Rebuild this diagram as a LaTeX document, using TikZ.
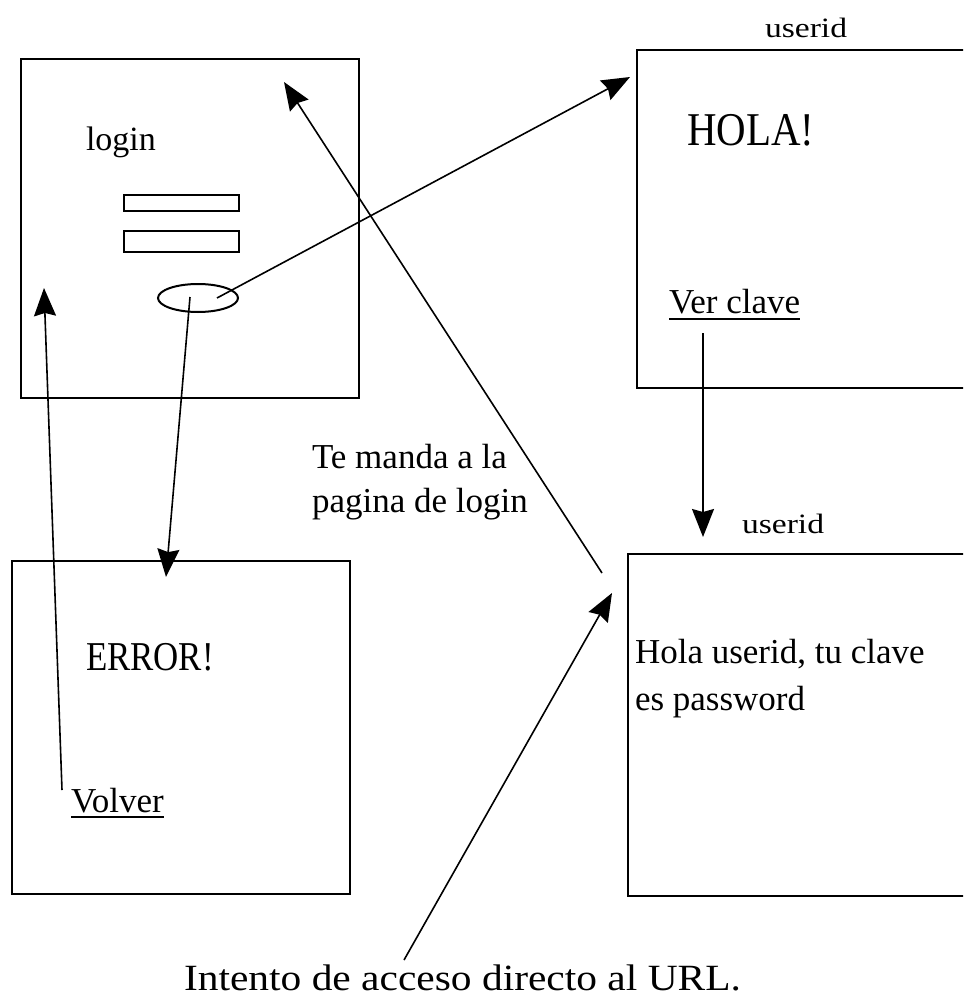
\documentclass[tikz,border=0pt]{standalone}
\usepackage{fontspec}
\setmainfont{Liberation Serif}
\usepackage{graphicx}
\usetikzlibrary{arrows.meta,shapes.geometric}
\begin{document}
\begin{tikzpicture}[x=1pt,y=-1pt,
  box/.style={draw, line width=2.4pt, inner sep=0pt, outer sep=0pt, anchor=north west},
  field/.style={draw, line width=2pt, inner sep=0pt, outer sep=0pt, anchor=north west},
  conn/.style={line width=1.6pt, -{Stealth[length=28pt,width=22pt,inset=3pt]}},
  txt/.style={inner sep=0pt, outer sep=0pt, anchor=base west, font=\fontsize{35}{42}\selectfont},
  uline/.style={line width=2pt}]
\useasboundingbox (0,0) rectangle (963,1000);
\clip (0,0) rectangle (963,1000);
\fill[white] (0,0) rectangle (963,1000);

% boxes
\node[box, minimum width=338pt, minimum height=339pt] (login) at (21,59) {};
\node[box, minimum width=400pt, minimum height=338pt] (holabox) at (637,50) {};
\node[box, minimum width=338pt, minimum height=333pt] (errbox) at (12,561) {};
\node[box, minimum width=400pt, minimum height=342pt] (clavebox) at (628,554) {};

% login form
\node[field, minimum width=115pt, minimum height=16pt] (f1) at (124,195) {};
\node[field, minimum width=115pt, minimum height=21pt] (f2) at (124,231) {};
\node[draw, ellipse, line width=2pt, inner sep=0pt, minimum width=80pt, minimum height=28pt] (btn) at (198,298) {};

% texts
\node[txt, font=\fontsize{34}{40}\selectfont] (logintxt) at (86,151) {login};
\node[txt, font=\fontsize{47}{50}\selectfont] (hola) at (687,146) {\scalebox{0.87}[1]{HOLA!}};
\node[txt] (ver) at (669,313) {Ver clave};
\draw[uline] ([yshift=-6pt]ver.base west) -- ([yshift=-6pt]ver.base east);
\node[txt, font=\fontsize{41}{45}\selectfont] (err) at (86,670) {\scalebox{0.85}[1]{ERROR!}};
\node[txt] (volver) at (71,812) {Volver};
\draw[uline] ([yshift=-5pt]volver.base west) -- ([yshift=-5pt]volver.base east);
\node[txt, font=\fontsize{28}{30}\selectfont] (uid1) at (765,38) {\scalebox{1.2}[1]{userid}};
\node[txt, font=\fontsize{28}{30}\selectfont] (uid2) at (742,533) {\scalebox{1.2}[1]{userid}};
\node[txt] (te1) at (312,468) {Te manda a la};
\node[txt] (te2) at (312,512) {pagina de login};
\node[txt] (cl1) at (635,663) {Hola userid, tu clave};
\node[txt] (cl2) at (635,710) {es password};
\node[txt, font=\fontsize{37}{40}\selectfont] (url) at (184,990) {\scalebox{1.12}[1]{Intento de acceso directo al URL.}};

% connector end points
\coordinate (volverTop) at (62,790);
\coordinate (loginLeft) at (44,288);
\coordinate (btnDown) at (190,297);
\coordinate (errTop) at (166,577);
\coordinate (btnRight) at (217,298);
\coordinate (holaIn) at (630,77);
\coordinate (claveOut) at (602,573);
\coordinate (loginTop) at (284,82);
\coordinate (urlTop) at (404,960);
\coordinate (claveIn) at (612,593);
\coordinate (verDown) at (703,333);
\coordinate (claveTop) at (703,537);

% connectors
\draw[conn] (volverTop) -- (loginLeft);
\draw[conn] (btnDown) -- (errTop);
\draw[conn] (btnRight) -- (holaIn);
\draw[conn] (claveOut) -- (loginTop);
\draw[conn] (urlTop) -- (claveIn);
\draw[conn] (verDown) -- (claveTop);
\end{tikzpicture}
\end{document}
